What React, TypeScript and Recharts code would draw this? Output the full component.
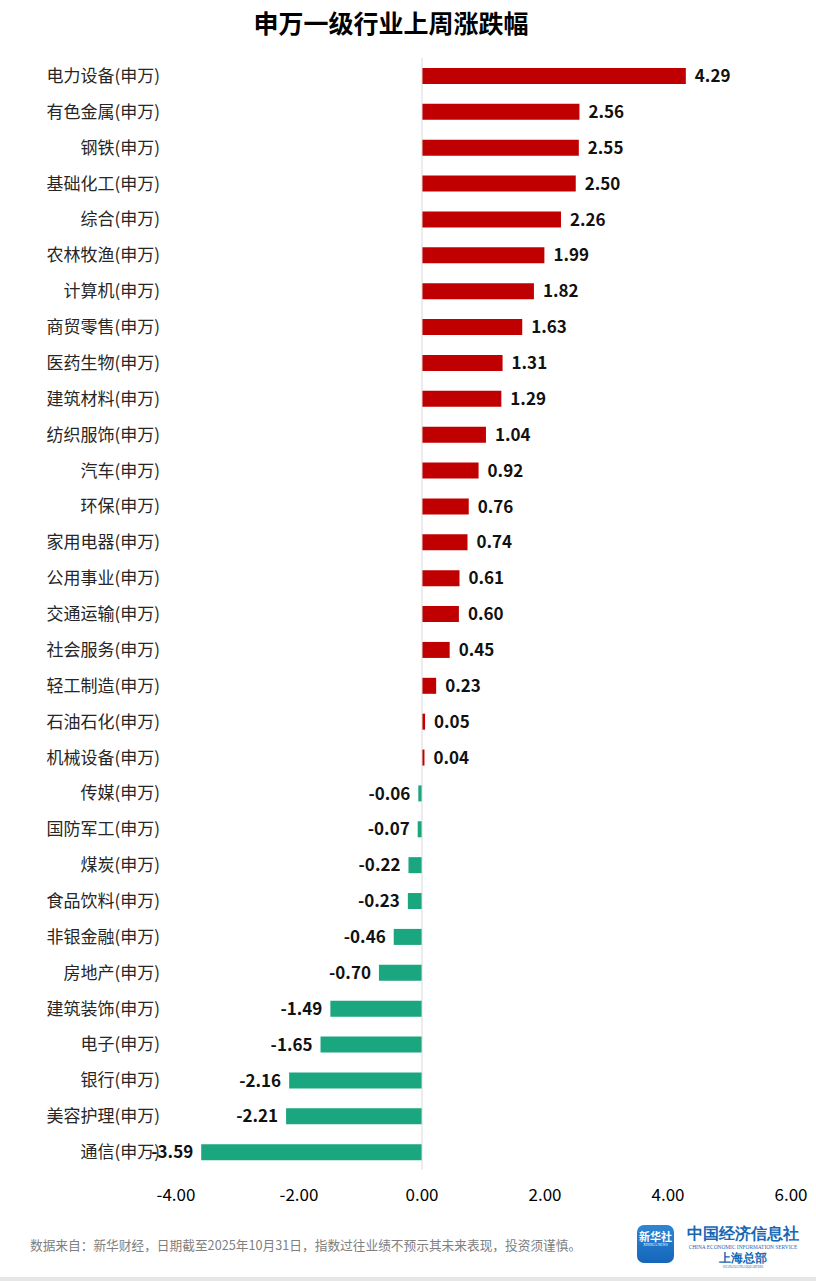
import React from 'react';
import { BarChart, Bar, XAxis, YAxis, Cell, LabelList, ReferenceLine } from 'recharts';

const categories = [
  '电力设备(申万)', '有色金属(申万)', '钢铁(申万)', '基础化工(申万)', '综合(申万)',
  '农林牧渔(申万)', '计算机(申万)', '商贸零售(申万)', '医药生物(申万)', '建筑材料(申万)',
  '纺织服饰(申万)', '汽车(申万)', '环保(申万)', '家用电器(申万)', '公用事业(申万)',
  '交通运输(申万)', '社会服务(申万)', '轻工制造(申万)', '石油石化(申万)', '机械设备(申万)',
  '传媒(申万)', '国防军工(申万)', '煤炭(申万)', '食品饮料(申万)', '非银金融(申万)',
  '房地产(申万)', '建筑装饰(申万)', '电子(申万)', '银行(申万)', '美容护理(申万)', '通信(申万)',
];
const changes = [
  4.29, 2.56, 2.55, 2.5, 2.26, 1.99, 1.82, 1.63, 1.31, 1.29,
  1.04, 0.92, 0.76, 0.74, 0.61, 0.6, 0.45, 0.23, 0.05, 0.04,
  -0.06, -0.07, -0.22, -0.23, -0.46, -0.7, -1.49, -1.65, -2.16, -2.21, -3.59,
];
const xTicks = [-4, -2, 0, 2, 4, 6];
const title = '申万一级行业上周涨跌幅';
const source = '数据来自：新华财经，日期截至2025年10月31日，指数过往业绩不预示其未来表现，投资须谨慎。';

const UP = '#c00000';
const DOWN = '#1aa67e';
const FONT = '"Noto Sans CJK SC", "Noto Sans", sans-serif';

const data = categories.map((name, i) => ({ name, value: changes[i] }));

const ValueLabel = (props: any) => {
  const { x, y, width, height, value } = props;
  const x0 = Number(x);
  const w = Number(width);
  const right = Math.max(x0, x0 + w);
  const left = Math.min(x0, x0 + w);
  const cy = Number(y) + Number(height) / 2;
  const pos = value >= 0;
  return (
    <text
      x={pos ? right + 9 : left - 8}
      y={cy}
      dy="0.36em"
      textAnchor={pos ? 'start' : 'end'}
      fontSize={17}
      fontWeight={700}
      fill="#111"
      fontFamily={FONT}
    >
      {Number(value).toFixed(2)}
    </text>
  );
};

export default function App() {
  return (
    <div style={{ position: 'absolute', left: 0, top: 0, width: 816, height: 1281, background: '#fff', fontFamily: FONT, overflow: 'hidden' }}>
      <div style={{ position: 'absolute', left: 0, top: 6, width: 782, textAlign: 'center', fontSize: 25, fontWeight: 700, color: '#000', lineHeight: '32px' }}>
        {title}
      </div>
      <div style={{ position: 'absolute', left: 0, top: 0 }}>
        <BarChart
          width={816}
          height={1215}
          data={data}
          layout="vertical"
          margin={{ top: 58, right: 25, bottom: 0, left: 0 }}
          barSize={16}
        >
          <XAxis
            type="number"
            domain={[-4, 6]}
            ticks={xTicks}
            tickFormatter={(v: number) => v.toFixed(2)}
            axisLine={false}
            tickLine={false}
            height={45}
            tickSize={6}
            tickMargin={13}
            interval={0}
            tick={{ fontSize: 17, fill: '#000', fontFamily: FONT }}
          />
          <YAxis
            type="category"
            dataKey="name"
            width={176}
            axisLine={false}
            tickLine={false}
            tickSize={0}
            tickMargin={16}
            interval={0}
            tick={{ fontSize: 17, fill: '#262626', fontFamily: FONT }}
          />
          <ReferenceLine x={0} stroke="#d9d9d9" strokeWidth={1} />
          <Bar dataKey="value" isAnimationActive={false}>
            {data.map((d, i) => (
              <Cell key={i} fill={d.value >= 0 ? UP : DOWN} />
            ))}
            <LabelList dataKey="value" content={ValueLabel} />
          </Bar>
        </BarChart>
      </div>
      <div style={{ position: 'absolute', left: 30, top: 1236, fontSize: 12.7, color: '#808080', whiteSpace: 'nowrap', lineHeight: '18px' }}>
        {source}
      </div>
      <div style={{ position: 'absolute', left: 637, top: 1225, width: 37, height: 38, borderRadius: 7, background: 'linear-gradient(180deg, #2f86d6 0%, #1466b8 100%)', color: '#fff', textAlign: 'center' }}>
        <div style={{ fontSize: 11, fontWeight: 700, lineHeight: '13px', marginTop: 5 }}>新华社</div>
        <div style={{ fontSize: 3.5, lineHeight: '5px', fontFamily: 'serif', whiteSpace: 'nowrap' }}>XINHUA NEWS</div>
      </div>
      <div style={{ position: 'absolute', left: 680, top: 1224, width: 126, textAlign: 'center', color: '#1767b5', fontFamily: 'serif', whiteSpace: 'nowrap' }}>
        <div style={{ fontSize: 16, fontWeight: 700, lineHeight: '20px' }}>中国经济信息社</div>
        <div style={{ fontSize: 5.4, lineHeight: '7px' }}>CHINA ECONOMIC INFORMATION SERVICE</div>
        <div style={{ fontSize: 12, fontWeight: 700, lineHeight: '14px' }}>上海总部</div>
        <div style={{ fontSize: 3, lineHeight: '4px' }}>SHANGHAI HEADQUARTERS</div>
      </div>
      <div style={{ position: 'absolute', left: 0, top: 1277, width: 816, height: 4, background: '#e6e6e6' }} />
    </div>
  );
}
